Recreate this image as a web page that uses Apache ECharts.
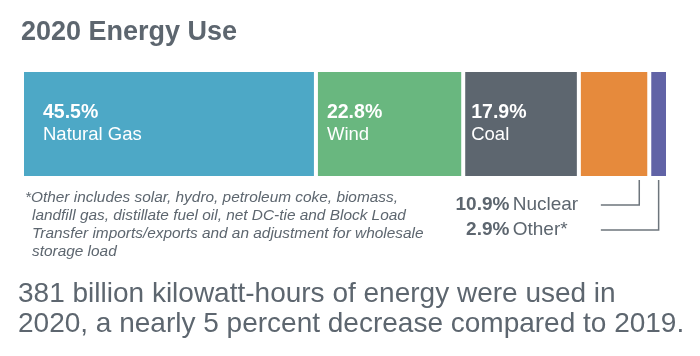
<!DOCTYPE html>
<html>
<head>
<meta charset="utf-8">
<script src="https://cdn.jsdelivr.net/npm/echarts@6/dist/echarts.min.js"></script>
<style>
html,body{margin:0;padding:0;background:#fff;}
#c{width:700px;height:356px;}
</style>
</head>
<body>
<div id="c"></div>
<script>
// ---- data ----
const titleText = '2020 Energy Use';
const categories = ['Natural Gas', 'Wind', 'Coal', 'Nuclear', 'Other*'];
const shares = [45.5, 22.8, 17.9, 10.9, 2.9];
const footnoteLines = [
  '*Other includes solar, hydro, petroleum coke, biomass,',
  'landfill gas, distillate fuel oil, net DC-tie and Block Load',
  'Transfer imports/exports and an adjustment for wholesale',
  'storage load'
];
const summaryLines = [
  '381 billion kilowatt-hours of energy were used in',
  '2020, a nearly 5 percent decrease compared to 2019.'
];

// ---- styles ----
const colors = ['#4da8c6', '#69b77f', '#5d666f', '#e68a3c', '#6163a6'];
const GREY = '#5d666f';
const FONT = '"Liberation Sans", Arial, sans-serif';
const GRID_LEFT = 22, GRID_RIGHT = 32, GRID_TOP = 70, GRID_H = 108;
const insideCount = 3;
const labelOffsets = [21, 11, 8];

const chart = echarts.init(document.getElementById('c'), null, {renderer: 'canvas'});

const series = categories.map((name, i) => ({
  type: 'bar',
  name: name,
  stack: 'total',
  barWidth: '100%',
  silent: true,
  data: [shares[i]],
  itemStyle: {color: colors[i], borderColor: '#ffffff', borderWidth: 2},
  label: i < insideCount ? {
    show: true,
    position: [labelOffsets[i], 32],
    align: 'left',
    verticalAlign: 'top',
    formatter: () => '{p|' + shares[i].toFixed(1) + '%}\n{n|' + name + '}',
    rich: {
      p: {color: '#fff', fontFamily: FONT, fontWeight: 'bold', fontSize: 19.5, lineHeight: 22},
      n: {color: '#fff', fontFamily: FONT, fontSize: 18.5, lineHeight: 22}
    }
  } : {show: false}
}));

chart.setOption({
  animation: false,
  grid: {left: GRID_LEFT, right: GRID_RIGHT, top: GRID_TOP, height: GRID_H},
  xAxis: {type: 'value', min: 0, max: 100, show: false},
  yAxis: {type: 'category', data: ['2020'], show: false},
  series: series
});

// ---- annotations computed through the chart's scales ----
const cum = [];
shares.reduce((acc, v, i) => { cum[i] = acc; return acc + v; }, 0);
const px = v => chart.convertToPixel({gridIndex: 0}, [v, 0])[0];
const barBottom = GRID_TOP + GRID_H;
const nuclearIdx = 3, otherIdx = 4;
const lineLeft = px(cum[nuclearIdx]) + 22;
const textCenter = lineLeft - 84;
const leaderX = [
  px(cum[nuclearIdx] + shares[nuclearIdx]) - 10,
  px(cum[otherIdx] + shares[otherIdx] / 2)
];
const leaderY = [205, 230];

const graphics = [];
graphics.push({
  type: 'text', x: 21, y: 33,
  style: {text: titleText, fill: GREY, fontFamily: FONT, fontWeight: 'bold', fontSize: 27,
          textAlign: 'left', textVerticalAlign: 'middle'}
});
[nuclearIdx, otherIdx].forEach((idx, k) => {
  graphics.push({
    type: 'polyline',
    shape: {points: [[leaderX[k], barBottom + 2], [leaderX[k], leaderY[k]], [lineLeft, leaderY[k]]]},
    style: {stroke: '#6d757c', lineWidth: 1.5, fill: null}
  });
  graphics.push({
    type: 'text', x: textCenter, y: leaderY[k] - 0.5,
    style: {
      text: '{b|' + shares[idx].toFixed(1) + '%} {r|' + categories[idx] + '}',
      textAlign: 'center', textVerticalAlign: 'middle',
      rich: {
        b: {fill: GREY, fontFamily: FONT, fontWeight: 'bold', fontSize: 19},
        r: {fill: GREY, fontFamily: FONT, fontSize: 19}
      }
    }
  });
});
const footY = [198, 216, 234, 252];
footnoteLines.forEach((t, i) => {
  graphics.push({
    type: 'text', x: i === 0 ? 25 : 32, y: footY[i],
    style: {text: t, fill: GREY, fontFamily: FONT, fontStyle: 'italic', fontSize: 15.4,
            textAlign: 'left', textVerticalAlign: 'middle'}
  });
});
const sumY = [294.5, 324.5];
summaryLines.forEach((t, i) => {
  graphics.push({
    type: 'text', x: 18, y: sumY[i],
    style: {text: t, fill: GREY, fontFamily: FONT, fontSize: 28,
            textAlign: 'left', textVerticalAlign: 'middle'}
  });
});
chart.setOption({graphic: graphics});
</script>
</body>
</html>
